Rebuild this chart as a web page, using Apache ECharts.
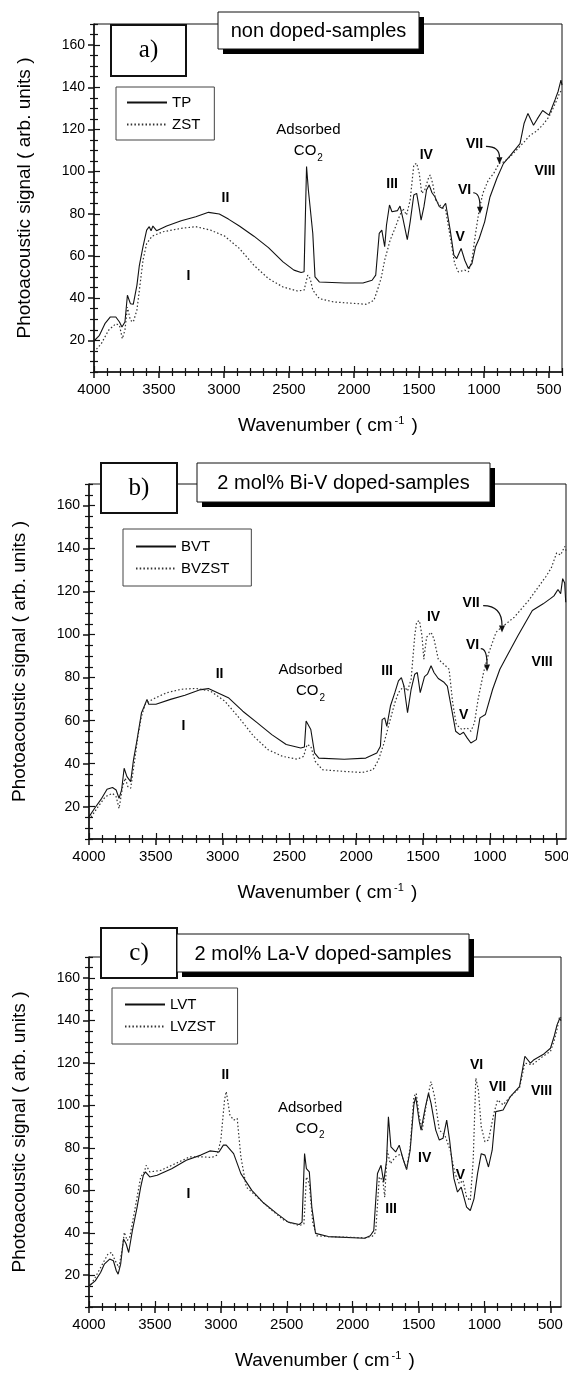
<!DOCTYPE html>
<html>
<head>
<meta charset="utf-8">
<title>Photoacoustic spectra</title>
<script src="https://cdn.jsdelivr.net/npm/echarts@6/dist/echarts.min.js"></script>
<style>
  html, body { margin: 0; padding: 0; background: #fff; }
  #chart { width: 568px; height: 1373px; }
</style>
</head>
<body>
<div id="chart"></div>
<script>
// ---- data: [wavenumber (cm-1), photoacoustic signal (arb. units)] ----
const tpData = [[4000,19.7],[3958,22.4],[3916,27.9],[3874,31.1],[3832,31.1],[3804,28.7],[3785,26.3],[3762,28.7],[3743,41.4],[3720,37.4],[3698,37.1],[3670,46.1],[3651,55.6],[3623,64.4],[3595,72.3],[3575,73.9],[3561,72],[3547,74.2],[3519,72],[3441,74.2],[3329,76.7],[3217,78.6],[3119,80.7],[3036,79.9],[2966,77.5],[2882,74.2],[2770,69.4],[2658,64],[2546,57.2],[2462,53.3],[2407,52.2],[2384,52.5],[2365,102.4],[2351,91.3],[2337,90.5],[2317,70.7],[2300,50.1],[2267,47.7],[2071,47.2],[1931,47.2],[1861,48.5],[1833,50.9],[1806,70.7],[1786,72.3],[1764,64.4],[1750,74.7],[1727,84.2],[1708,81],[1666,81.5],[1646,83.7],[1624,77.8],[1590,67.8],[1568,76.2],[1540,88.9],[1518,89.7],[1498,82.6],[1484,77],[1462,83.4],[1442,91.3],[1422,93.7],[1400,90],[1378,88.1],[1344,83.4],[1322,82.6],[1295,85],[1260,72.3],[1232,60.4],[1210,58.8],[1176,63.6],[1148,58],[1120,54.1],[1093,56.4],[1065,64.4],[1037,68.3],[995,76.2],[954,88],[900,97],[851,103.8],[800,107.5],[723,113.3],[692,122.8],[662,127.6],[619,122],[590,125],[549,129],[500,126.8],[454,134],[430,138],[408,143.4],[400,141]];
const zstData = [[4000,14.5],[3944,18.4],[3888,24.8],[3832,27.9],[3804,27.1],[3782,20.8],[3762,24.8],[3743,35.8],[3720,29.5],[3698,28.7],[3670,34.3],[3651,43.8],[3623,58],[3595,65.9],[3553,69.4],[3469,71.5],[3329,73.1],[3217,73.9],[3105,72.3],[2994,69.4],[2882,63.6],[2770,55.6],[2658,49.3],[2546,45.3],[2434,43.4],[2384,43.8],[2356,50.9],[2337,49.3],[2317,43.8],[2267,39.8],[2155,38.2],[2043,37.7],[1903,37.1],[1847,39],[1820,43.8],[1792,49.3],[1764,58],[1722,67.5],[1680,73.9],[1652,78.6],[1624,82.6],[1596,79.4],[1568,86.5],[1540,103.2],[1518,104],[1498,99.2],[1479,89.7],[1456,91.3],[1428,96.8],[1414,98.4],[1395,94.5],[1372,86.5],[1330,83.4],[1295,81.8],[1260,69.1],[1226,56.4],[1198,52.5],[1148,53.3],[1120,52.5],[1093,58],[1065,70.7],[1037,81.8],[1009,89.7],[967,96],[925,99.2],[883,104],[850,104.5],[800,107],[723,112],[692,114],[650,117],[600,119],[550,122],[500,126],[454,132],[420,137],[400,139]];
const bvtData = [[4000,15.3],[3959,19.2],[3905,23.9],[3865,28.1],[3824,28.9],[3797,27.8],[3775,23.9],[3756,27.8],[3737,37.9],[3716,34],[3688,31.7],[3667,41.8],[3640,51.2],[3607,63.7],[3580,67.6],[3566,69.9],[3553,67.6],[3499,67.6],[3390,69.9],[3282,71.8],[3174,74.3],[3106,74.9],[3038,73],[2957,70.7],[2849,64.4],[2740,59],[2632,53.5],[2524,48.9],[2415,47.3],[2388,47.8],[2375,59.8],[2361,59],[2340,55.9],[2312,45],[2280,42.6],[2090,42.1],[1928,42.6],[1846,45],[1819,48.1],[1806,60.5],[1787,61.3],[1771,57.4],[1744,66.8],[1711,73],[1684,78.5],[1662,80],[1643,76.1],[1616,63.7],[1589,74.6],[1562,81.6],[1543,82.4],[1521,73],[1508,72.2],[1489,80.5],[1467,81.6],[1440,85.5],[1418,82.4],[1386,79.6],[1346,78],[1318,76.1],[1283,64.4],[1256,55.1],[1224,53.5],[1197,54.6],[1170,52],[1142,49.6],[1101,51.2],[1074,61.3],[1033,62.9],[979,74.6],[925,83.9],[871,90.2],[790,99.5],[682,111.2],[601,114.3],[547,116.7],[520,118],[490,121],[470,119],[455,126],[440,124],[432,115]];
const bvzstData = [[4000,13.8],[3932,20],[3878,24.7],[3824,26.2],[3797,24.7],[3775,19.2],[3748,29.4],[3729,33.3],[3710,29.4],[3688,28.6],[3661,40.3],[3634,52.7],[3607,62.1],[3580,67.6],[3526,69.9],[3418,73],[3309,74.6],[3201,75],[3093,73.8],[2984,69.1],[2876,61.3],[2767,52.7],[2659,46.5],[2551,43.4],[2442,42.1],[2394,43.4],[2368,48.9],[2340,48.1],[2307,41.1],[2253,37.2],[2090,36.4],[1955,35.9],[1874,37.2],[1833,41.8],[1792,49.6],[1752,59],[1711,68.3],[1684,73],[1643,76.1],[1616,73.8],[1589,79.3],[1562,99.5],[1548,105.8],[1527,106.5],[1508,99.5],[1494,88.6],[1473,98.8],[1440,101.1],[1418,98],[1386,88.6],[1332,85.5],[1305,83.9],[1278,68.3],[1251,58.2],[1210,55.9],[1170,56.6],[1142,55.1],[1115,59],[1088,69.9],[1047,82.4],[1007,91.7],[953,101.1],[925,102.7],[817,108.1],[709,115.9],[628,122.9],[580,127],[540,131],[500,138],[470,137],[440,141],[430,139]];
const lvtData = [[4000,14.9],[3953,17.3],[3912,21.3],[3884,25.2],[3843,27.6],[3815,26.8],[3793,22.1],[3779,20.5],[3760,25.2],[3738,37.1],[3718,34.7],[3699,30.7],[3671,41],[3635,52.1],[3608,61.5],[3588,67.1],[3572,68.7],[3558,67.9],[3539,66.3],[3483,67.1],[3373,70.2],[3262,74.2],[3152,76.6],[3083,78.6],[3014,78.1],[2981,81.3],[2959,81.3],[2903,77.3],[2848,67.9],[2765,60],[2682,54.4],[2572,48.9],[2489,45],[2406,43.9],[2384,45],[2365,77.3],[2351,70.2],[2329,68.7],[2310,52.1],[2282,39.7],[2185,38.2],[1909,37.4],[1867,38.6],[1840,41],[1812,67.9],[1785,71.8],[1765,63.9],[1743,74.2],[1729,94.7],[1710,80.5],[1674,78.1],[1647,81.3],[1619,75],[1591,69.8],[1564,78.9],[1536,100.3],[1522,104.2],[1495,92.4],[1481,88.4],[1453,97.9],[1425,105.8],[1406,101.1],[1370,88.4],[1343,83.7],[1315,84.5],[1287,93.1],[1265,83.7],[1232,65.5],[1205,59.2],[1177,61.5],[1136,52.1],[1108,50.5],[1080,56],[1053,67.9],[1025,77.3],[997,76.6],[970,71],[942,78.9],[915,97.1],[859,97.9],[804,104.2],[735,108.9],[694,123.2],[652,120],[625,121.6],[556,124],[500,127],[470,133],[450,138],[430,141],[420,140]];
const lvzstData = [[4000,14.2],[3953,18.9],[3898,25.2],[3856,30],[3829,30.7],[3801,26.8],[3773,23.6],[3746,33.1],[3732,40.2],[3710,36.3],[3691,37.9],[3663,47.3],[3635,56.8],[3608,66.3],[3580,68.7],[3566,71.8],[3539,68.7],[3456,69.4],[3345,72.6],[3235,75.8],[3138,75.8],[3069,75.5],[3028,76.6],[3000,83.7],[2972,102.6],[2959,106.6],[2931,95.5],[2903,93.1],[2876,93.9],[2848,75.8],[2807,61.5],[2738,57.6],[2627,51.3],[2517,45.7],[2406,43.4],[2370,44.2],[2351,66.3],[2329,63.1],[2302,44.2],[2274,38.6],[2185,38.2],[1909,37.6],[1850,38.4],[1826,40.2],[1798,66.3],[1771,64.7],[1757,56.8],[1738,78.9],[1715,72.6],[1674,75.8],[1632,77.3],[1591,70.2],[1564,80.5],[1536,104.2],[1518,105.8],[1495,94.7],[1473,88.4],[1440,101.1],[1406,111.3],[1379,104.2],[1343,88.4],[1301,86],[1260,78.9],[1224,67.9],[1191,63.1],[1163,64.7],[1136,56.8],[1108,55.2],[1086,74.2],[1066,112.9],[1047,107.4],[1025,90],[997,82.9],[970,83.7],[929,96.3],[901,102.6],[859,100.3],[804,104.2],[735,108.2],[694,120],[638,119.2],[556,123.2],[500,125.5],[470,131],[450,136],[430,142],[420,141]];

// tick labels
const xMajorTicks = [4000, 3500, 3000, 2500, 2000, 1500, 1000, 500];
const yMajorTicks = [20, 40, 60, 80, 100, 120, 140, 160];

// band labels: [text, wavenumber, signal]
const labelsA = [['I',3269,50],['II',2985,87.4],['Adsorbed',2347,119.6],['CO2',2347,109.5],['III',1703,93.6],['IV',1440,107.8],['V',1180,68.9],['VI',1146,91],['VII',1069,113],['VIII',527,99.9]];
const labelsB = [['I',3289,57.3],['II',3019,81.4],['Adsorbed',2338,83.3],['CO2',2338,73.6],['III',1765,82.7],['IV',1418,107.9],['V',1193,62.3],['VI',1126,94.9],['VII',1136,114.4],['VIII',605,87]];
const labelsC = [['I',3241,58],['II',2962,114.2],['Adsorbed',2319,98.7],['CO2',2319,88.8],['III',1705,51],['IV',1450,75],['V',1180,67],['VI',1056,119],['VII',897,108.6],['VIII',564,106.4]];
// arrows: [fromWn, fromSignal, toWn, toSignal]
const arrowsA = [[985,112,881,103.5],[1083,90,1031,80]];
const arrowsB = [[1050,113.5,909,101],[1068,93.5,1021,82.8]];
const arrowsC = [];

const panelTitles = ['non doped-samples', '2 mol% Bi-V doped-samples', '2 mol% La-V doped-samples'];
const panelLetters = ['a)', 'b)', 'c)'];
const seriesNames = [['TP', 'ZST'], ['BVT', 'BVZST'], ['LVT', 'LVZST']];
const seriesData = [[tpData, zstData], [bvtData, bvzstData], [lvtData, lvzstData]];
const panelLabels = [labelsA, labelsB, labelsC];
const panelArrows = [arrowsA, arrowsB, arrowsC];

// ---- layout (pixels) ----
const layout = [
  { grid: { left: 94, top: 24, width: 468, height: 348 }, xMin: 400,
    letter: [111, 25, 75, 51], title: [218, 12, 201, 37],
    legend: { left: 116, top: 87, padding: [8, 14, 8, 10] } },
  { grid: { left: 89, top: 484, width: 477, height: 355 }, xMin: 430,
    letter: [101, 463, 76, 50], title: [197, 463, 293, 39],
    legend: { left: 123, top: 529, padding: [10, 22, 10, 12] } },
  { grid: { left: 89, top: 957, width: 472, height: 350 }, xMin: 420,
    letter: [101, 928, 76, 50], title: [177, 934, 292, 38],
    legend: { left: 112, top: 988, padding: [9, 22, 10, 12] } }
];

const FONT = '"Liberation Sans", Arial, sans-serif';
const INK = '#111';

const xMinorTicks = [];
for (let v = 400; v <= 4000; v += 100) if (v % 500) xMinorTicks.push(v);
const yMinorTicks = [];
for (let v = 5; v <= 170; v += 5) if (v % 20) yMinorTicks.push(v);

const chart = echarts.init(document.getElementById('chart'), null, { renderer: 'canvas' });
const option = {
  animation: false,
  backgroundColor: '#fff',
  grid: [], xAxis: [], yAxis: [], series: [], legend: [], graphic: { elements: [] }
};

function tickAxis(base, values, inside, len) {
  return Object.assign({}, base, {
    axisLine: { show: false },
    axisLabel: { show: false },
    splitLine: { show: false },
    axisTick: { show: true, inside: inside, length: len, customValues: values, lineStyle: { color: INK, width: 1.2 } }
  });
}

layout.forEach((L, i) => {
  option.grid.push(Object.assign({
    show: true, borderColor: INK, borderWidth: 1, backgroundColor: 'transparent',
    containLabel: false, outerBoundsMode: 'none'
  }, L.grid));

  const xBase = { gridIndex: i, type: 'value', inverse: true, min: L.xMin, max: 4000, position: 'bottom' };
  option.xAxis.push(Object.assign({}, xBase, {
    axisLine: { lineStyle: { color: INK, width: 1.5 } },
    axisTick: { inside: false, length: 6, customValues: xMajorTicks, lineStyle: { color: INK, width: 1.5 } },
    axisLabel: { customValues: xMajorTicks, formatter: v => String(v), color: '#000', fontSize: 15, fontFamily: FONT, margin: 10 },
    splitLine: { show: false },
    name: '{t|Wavenumber ( cm}{s|-1}{t| )}',
    nameLocation: 'middle', nameGap: 43,
    nameTextStyle: { rich: {
      t: { fontSize: 19, fontFamily: FONT, color: '#000', lineHeight: 22 },
      s: { fontSize: 11, fontFamily: FONT, color: '#000', verticalAlign: 'top', lineHeight: 22, padding: [0, 2, 0, 2] }
    } }
  }));
  option.xAxis.push(tickAxis(xBase, xMajorTicks, true, 6));
  option.xAxis.push(tickAxis(xBase, xMinorTicks, false, 4));
  option.xAxis.push(tickAxis(xBase, xMinorTicks, true, 4));

  const yBase = { gridIndex: i, type: 'value', min: 5, max: 170, position: 'left' };
  option.yAxis.push(Object.assign({}, yBase, {
    axisLine: { lineStyle: { color: INK, width: 1.5 } },
    axisTick: { inside: false, length: 6, customValues: yMajorTicks, lineStyle: { color: INK, width: 1.5 } },
    axisLabel: { customValues: yMajorTicks, formatter: v => String(v), color: '#000', fontSize: 14, fontFamily: FONT, margin: 9 },
    splitLine: { show: false },
    name: 'Photoacoustic signal ( arb. units )',
    nameLocation: 'middle', nameGap: 60,
    nameTextStyle: { fontSize: 19, fontFamily: FONT, color: '#000' }
  }));
  option.yAxis.push(tickAxis(yBase, yMajorTicks, true, 6));
  option.yAxis.push(tickAxis(yBase, yMinorTicks, false, 4));
  option.yAxis.push(tickAxis(yBase, yMinorTicks, true, 4));

  const ax = i * 4;
  seriesNames[i].forEach((name, k) => {
    option.series.push({
      type: 'line', name: name, xAxisIndex: ax, yAxisIndex: ax,
      data: seriesData[i][k], symbol: 'none', showSymbol: false, smooth: false, z: 5,
      itemStyle: { color: INK },
      lineStyle: k === 0 ? { color: INK, width: 1.1, type: 'solid' }
                         : { color: '#333', width: 1.2, type: [1.5, 2.2] }
    });
  });

  // band labels drawn as text-only points in data coordinates
  option.series.push({
    type: 'scatter', name: 'labels' + i, xAxisIndex: ax, yAxisIndex: ax,
    symbolSize: 1, itemStyle: { color: 'rgba(0,0,0,0)', opacity: 1 }, silent: true, z: 6,
    data: panelLabels[i].map(l => ({ name: l[0], value: [l[1], l[2]] })),
    label: {
      show: true, position: [0, 0], align: 'center', verticalAlign: 'middle', color: '#000',
      formatter: p => p.name === 'CO2' ? '{n|CO}{s|2}' : (p.name === 'Adsorbed' ? '{n|Adsorbed}' : '{r|' + p.name + '}'),
      rich: {
        n: { fontSize: 15, fontFamily: FONT, color: '#000', lineHeight: 18 },
        s: { fontSize: 10, fontFamily: FONT, color: '#000', verticalAlign: 'bottom', lineHeight: 12, padding: [0, 0, -3, 1] },
        r: { fontSize: 14, fontWeight: 'bold', fontFamily: FONT, color: '#000' }
      }
    }
  });

  option.legend.push(Object.assign({
    data: seriesNames[i], orient: 'vertical', itemWidth: 40, itemHeight: 14, itemGap: 7,
    borderColor: '#444', borderWidth: 1, backgroundColor: '#fff', selectedMode: false,
    itemStyle: { opacity: 0 },
    textStyle: { fontSize: 15, fontFamily: FONT, color: '#000' }
  }, L.legend));

  const lb = L.letter, tb = L.title;
  option.graphic.elements.push({
    type: 'group', id: 'letter' + i, z: 100, children: [
      { type: 'rect', shape: { x: lb[0], y: lb[1], width: lb[2], height: lb[3] },
        style: { fill: '#fff', stroke: INK, lineWidth: 2 } },
      { type: 'text', x: lb[0] + lb[2] / 2, y: lb[1] + lb[3] / 2,
        style: { text: panelLetters[i], font: '25px "Liberation Serif", "Times New Roman", serif', fill: '#000', align: 'center', verticalAlign: 'middle' } }
    ]
  });
  option.graphic.elements.push({
    type: 'group', id: 'title' + i, z: 100, children: [
      { type: 'rect', shape: { x: tb[0] + 5, y: tb[1] + 5, width: tb[2], height: tb[3] }, style: { fill: '#000' } },
      { type: 'rect', shape: { x: tb[0], y: tb[1], width: tb[2], height: tb[3] }, style: { fill: '#fff', stroke: INK, lineWidth: 1 } },
      { type: 'text', x: tb[0] + tb[2] / 2, y: tb[1] + tb[3] / 2 + 1,
        style: { text: panelTitles[i], font: '20px "Liberation Sans", Arial, sans-serif', fill: '#000', align: 'center', verticalAlign: 'middle' } }
    ]
  });
});

chart.setOption(option);

// curved arrows pointing from the VI / VII labels to the spectra
const arrowEls = [];
panelArrows.forEach((list, i) => {
  const finder = { xAxisIndex: i * 4, yAxisIndex: i * 4 };
  list.forEach((a, k) => {
    const s = chart.convertToPixel(finder, [a[0], a[1]]);
    const e = chart.convertToPixel(finder, [a[2], a[3]]);
    const cx = e[0], cy = s[1];
    let dx = e[0] - cx, dy = e[1] - cy;
    const len = Math.hypot(dx, dy) || 1;
    dx /= len; dy /= len;
    const hl = 7, hw = 3;
    const bx = e[0] - dx * hl, by = e[1] - dy * hl;
    arrowEls.push({
      type: 'bezierCurve', id: 'arc' + i + '_' + k, z: 90,
      shape: { x1: s[0], y1: s[1], x2: bx, y2: by, cpx1: cx, cpy1: cy },
      style: { stroke: INK, lineWidth: 1.2, fill: null }
    });
    arrowEls.push({
      type: 'polygon', id: 'head' + i + '_' + k, z: 90,
      shape: { points: [[e[0], e[1]], [bx - dy * hw, by + dx * hw], [bx + dy * hw, by - dx * hw]] },
      style: { fill: INK }
    });
  });
});
chart.setOption({ graphic: { elements: arrowEls } });
</script>
</body>
</html>
